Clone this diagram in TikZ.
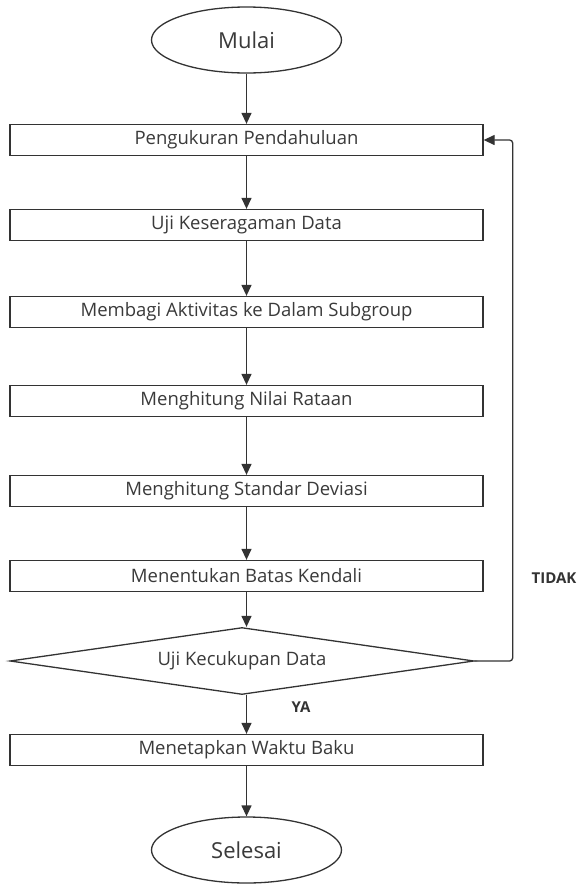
\documentclass[tikz,border=0pt]{standalone}
\usepackage{fontspec}
\setmainfont{Open Sans}
\usetikzlibrary{shapes.geometric,arrows.meta}
\definecolor{ink}{HTML}{333333}
\definecolor{txt}{HTML}{3A3A3A}
\begin{document}
\begin{tikzpicture}[x=1pt,y=-1pt,
  proc/.style={draw=ink,line width=1.3pt,minimum width=473pt,minimum height=31pt,inner sep=0pt,text=txt,font=\fontsize{18.5}{22}\selectfont},
  term/.style={draw=ink,line width=1.3pt,ellipse,minimum width=190pt,minimum height=66pt,inner sep=0pt,text=txt,font=\fontsize{22}{26}\selectfont},
  decis/.style={draw=ink,line width=1.3pt,diamond,shape aspect=7,minimum width=464pt,minimum height=67pt,inner sep=0pt,text=txt,font=\fontsize{18.5}{22}\selectfont},
  flow/.style={draw=ink,line width=1.3pt,-{Triangle[width=10pt,length=11pt]}},
  lbl/.style={text=ink,font=\bfseries\fontsize{15}{18}\selectfont}
]
\useasboundingbox (0,0) rectangle (580,884);
\fill[white] (0,0) rectangle (580,884);
\node[term] (start) at (246.5,40) {Mulai};
\node[proc] (b1) at (246.5,140) {Pengukuran Pendahuluan};
\node[proc] (b2) at (246.5,225) {Uji Keseragaman Data};
\node[proc] (b3) at (246.5,312) {Membagi Aktivitas ke Dalam Subgroup};
\node[proc] (b4) at (246.5,401) {Menghitung Nilai Rataan};
\node[proc] (b5) at (246.5,491) {Menghitung Standar Deviasi};
\node[proc] (b6) at (246.5,576) {Menentukan Batas Kendali};
\node[decis] (d) at (242,661) {Uji Kecukupan Data};
\node[proc] (b7) at (246.5,750) {Menetapkan Waktu Baku};
\node[term] (end) at (246.5,850) {Selesai};
\node[lbl] (ya) at (301,707) {YA};
\node[lbl] (tidak) at (554,578) {TIDAK};
\draw[flow] (start) -- (b1);
\draw[flow] (b1) -- (b2);
\draw[flow] (b2) -- (b3);
\draw[flow] (b3) -- (b4);
\draw[flow] (b4) -- (b5);
\draw[flow] (b5) -- (b6);
\draw[flow] (b6.south) -- (b6.south |- d.north);
\draw[flow] (b7.north |- d.south) -- (b7);
\draw[flow] (b7) -- (end);
\draw[flow,rounded corners=3pt] (d.east) -- ++(38,0) |- (b1.east);
\end{tikzpicture}
\end{document}
